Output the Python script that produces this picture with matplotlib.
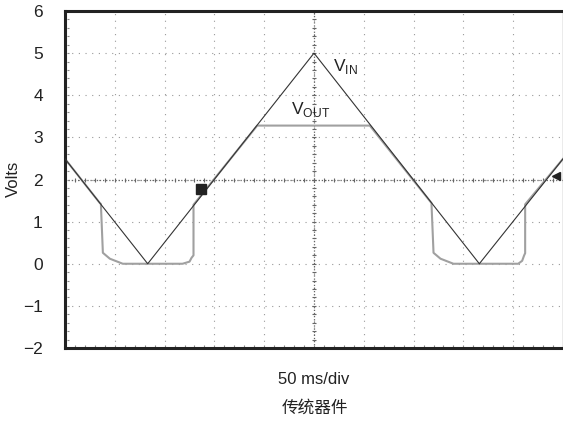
import numpy as np
import matplotlib
matplotlib.use('Agg')
import matplotlib.pyplot as plt

plt.rcParams['font.family'] = ['Liberation Sans', 'Noto Sans CJK SC', 'DejaVu Sans']

# time in divisions (50 ms/div), volts
vin_t = [0, 1.66, 5.0, 8.32, 10]
vin_v = [2.49, 0, 5.0, 0, 2.49]

vout_t = [0, 0.70, 0.72, 0.76, 0.9, 1.16, 2.36, 2.5, 2.54, 2.58, 2.58, 3.86, 6.12,
          7.36, 7.36, 7.40, 7.54, 7.8, 9.1, 9.18, 9.22, 9.24, 9.24, 10]
vout_v = [2.49, 1.44, 1.42, 0.26, 0.12, 0.0, 0.0, 0.05, 0.14, 0.2, 1.40, 3.28, 3.28,
          1.44, 1.40, 0.26, 0.12, 0.0, 0.0, 0.07, 0.2, 0.25, 1.41, 2.49]

marker_t, marker_v = 2.74, 1.78
trig_t, trig_v = 9.86, 2.08

fig = plt.figure(figsize=(5.63, 4.23), dpi=100)
ax = fig.add_axes([0.1155, 0.1773, 0.8845, 0.7967])
ax.set_xlim(0, 10)
ax.set_ylim(-2, 6)

# graticule
for x in range(1, 10):
    ax.axvline(x, color='#999999', lw=0.8, ls=(0, (1, 5)), zorder=1)
for y in range(-1, 6):
    ax.axhline(y, color='#999999', lw=0.8, ls=(0, (1, 5)), zorder=1)
ax.axhline(2, color='#666666', lw=0.9, ls=(0, (1, 1.5)), zorder=1)
ax.axvline(5, color='#666666', lw=0.9, ls=(0, (1, 1.5)), zorder=1)
mt = np.arange(0, 10.01, 0.2)
ax.plot(mt, np.full_like(mt, 2), ls='none', marker='|', ms=2.5, color='#666666', mew=0.8, zorder=1)
mv = np.arange(-2, 6.01, 0.2)
ax.plot(np.full_like(mv, 5), mv, ls='none', marker='_', ms=2.5, color='#666666', mew=0.8, zorder=1)
ax.plot(np.full_like(mv, 0.06), mv, ls='none', marker='_', ms=2, color='#888888', mew=0.8, zorder=1)
ax.plot(mt, np.full_like(mt, -1.95), ls='none', marker='|', ms=2, color='#888888', mew=0.8, zorder=1)

ax.plot(vout_t, vout_v, color='#a0a0a0', lw=1.5, zorder=2)
ax.plot(vin_t, vin_v, color='#333333', lw=0.8, zorder=3)
ax.plot(marker_t, marker_v, marker='s', ms=7, color='#222222', zorder=4)
ax.plot(trig_t, trig_v, marker='<', ms=6, color='#222222', zorder=4)

ax.text(5.38, 4.68, r'V$_{\mathregular{IN}}$', fontsize=12.5, color='#222222', va='center')
ax.text(4.54, 3.66, r'V$_{\mathregular{OUT}}$', fontsize=12.5, color='#222222', va='center')

ax.set_xticks([])
ax.set_yticks(range(-2, 7))
ax.set_yticklabels(['\u22122', '\u22121', '0', '1', '2', '3', '4', '5', '6'])
ax.tick_params(axis='y', length=0, labelsize=12.5, pad=16, colors='#222222')
ax.set_xlabel('50 ms/div', fontsize=12, color='#222222', labelpad=17)
for s in ['left', 'bottom', 'top']:
    ax.spines[s].set_linewidth(2.2)
    ax.spines[s].set_color('#222222')
ax.spines['right'].set_color('#999999')
ax.spines['right'].set_linewidth(1)

fig.text(0.023, 0.577, 'Volts', fontsize=12, rotation=90, ha='center', va='center', color='#222222')
fig.text(0.5595, 0.035, '传统器件', fontsize=12, ha='center', va='center', color='#222222')

fig.savefig('out.png', dpi=100)
